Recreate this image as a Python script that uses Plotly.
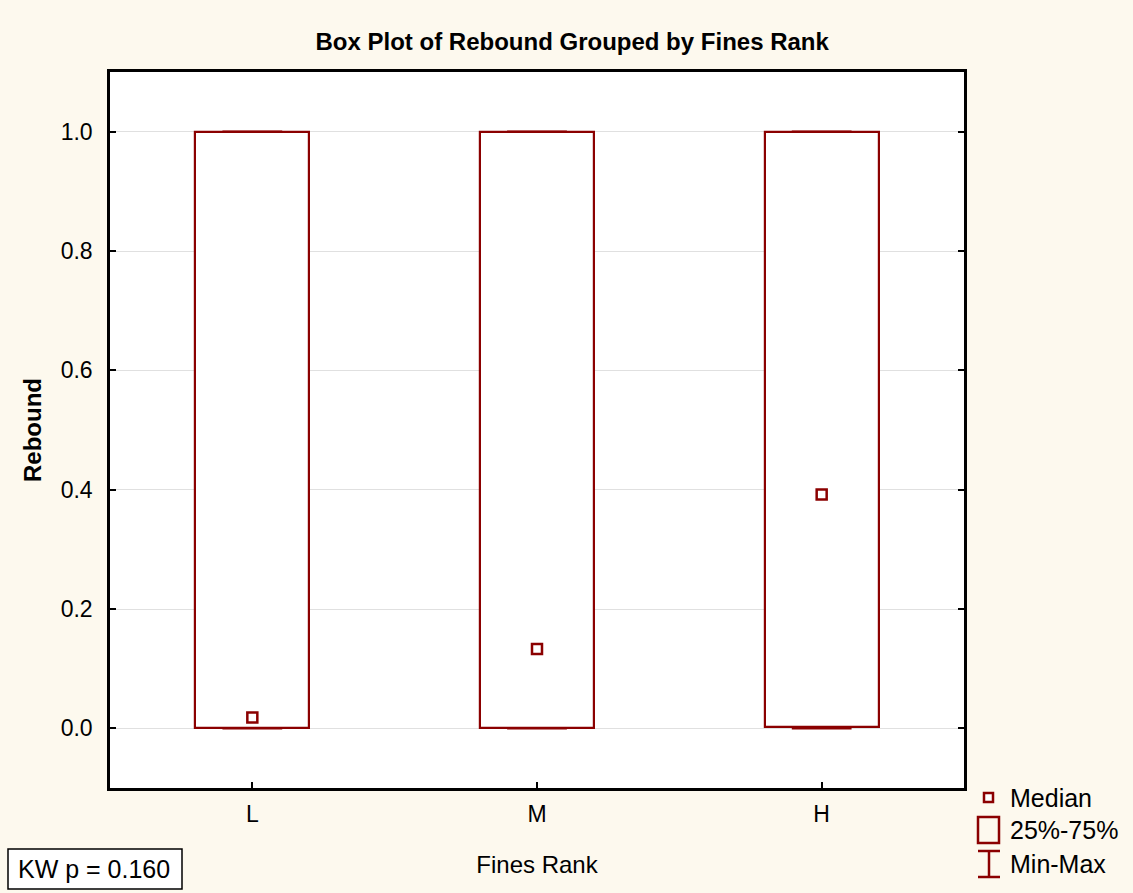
import plotly.graph_objects as go

categories = ["L", "M", "H"]
q1_vals = [0.0, 0.0, 0.003]
median_vals = [0.018, 0.133, 0.392]
q3_vals = [1.0, 1.0, 1.0]
min_vals = [0.0, 0.0, 0.0]
max_vals = [1.0, 1.0, 1.0]
y_ticks = [0.0, 0.2, 0.4, 0.6, 0.8, 1.0]
kw_text = "KW p = 0.160"

RED = "#8B0000"
BG = "#FDF9EE"
FONT = "Liberation Sans, Arial, sans-serif"
BOX_W = 0.4
CAP_HW = 0.105

W, H = 1133, 893
L_M, R_M, T_M, B_M = 110, 169, 72, 105
PW = W - L_M - R_M
PH = H - T_M - B_M

pos = list(range(len(categories)))
fig = go.Figure()

# boxes (25%-75%)
fig.add_trace(go.Bar(
    x=pos, base=q1_vals, y=[b - a for a, b in zip(q1_vals, q3_vals)],
    width=BOX_W, marker=dict(color="white", line=dict(color=RED, width=2.2)),
    showlegend=False, hoverinfo="skip"))

# whiskers (min-max)
wx, wy = [], []
for i in pos:
    wx += [i, i, None, i, i, None,
           i - CAP_HW, i + CAP_HW, None, i - CAP_HW, i + CAP_HW, None]
    wy += [q1_vals[i], min_vals[i], None, q3_vals[i], max_vals[i], None,
           min_vals[i], min_vals[i], None, max_vals[i], max_vals[i], None]
fig.add_trace(go.Scatter(x=wx, y=wy, mode="lines",
                         line=dict(color=RED, width=2.5),
                         showlegend=False, hoverinfo="skip"))

# medians
fig.add_trace(go.Scatter(x=pos, y=median_vals, mode="markers",
                         marker=dict(symbol="square-open", size=10, color=RED,
                                     line=dict(width=2.5, color=RED)),
                         showlegend=False))

fig.update_layout(
    width=W, height=H,
    paper_bgcolor=BG, plot_bgcolor="white",
    margin=dict(l=L_M, r=R_M, t=T_M, b=B_M),
    font=dict(family=FONT, size=23, color="black"),
    title=dict(text="<b>Box Plot of Rebound Grouped by Fines Rank</b>",
               x=0.505, xanchor="center", xref="container",
               y=1 - 42 / H, yanchor="middle", yref="container",
               font=dict(size=24)),
    xaxis=dict(range=[-0.5, 2.5], tickvals=pos, ticktext=categories,
               ticks="inside", ticklen=6, tickwidth=2, tickcolor="black",
               ticklabelstandoff=4,
               showline=True, linecolor="black", linewidth=2.5, mirror=True,
               showgrid=False, zeroline=False,
               title=dict(text="Fines Rank", standoff=30,
                          font=dict(size=24))),
    yaxis=dict(range=[-0.1, 1.1], tickvals=y_ticks,
               ticktext=[f"{v:.1f}" for v in y_ticks],
               ticks="inside", ticklen=6, tickwidth=2, tickcolor="black",
               ticklabelstandoff=10,
               showline=True, linecolor="black", linewidth=2.5, mirror="ticks",
               showgrid=True, gridcolor="#E0E0E0", gridwidth=1, zeroline=False,
               title=dict(text="<b>Rebound</b>", standoff=13,
                          font=dict(size=24))),
    bargap=0,
)


def px(x):
    return (x - L_M) / PW


def py(y):
    return (H - B_M - y) / PH


shapes = [
    # median symbol
    dict(type="rect", xref="paper", yref="paper",
         x0=px(984), x1=px(993), y0=py(802), y1=py(793),
         line=dict(color=RED, width=2.5), fillcolor="white"),
    # box symbol
    dict(type="rect", xref="paper", yref="paper",
         x0=px(978), x1=px(999), y0=py(843), y1=py(817),
         line=dict(color=RED, width=2.5), fillcolor=BG),
    # whisker symbol
    dict(type="line", xref="paper", yref="paper",
         x0=px(978), x1=px(1000), y0=py(851), y1=py(851),
         line=dict(color=RED, width=2.5)),
    dict(type="line", xref="paper", yref="paper",
         x0=px(978), x1=px(1000), y0=py(877), y1=py(877),
         line=dict(color=RED, width=2.5)),
    dict(type="line", xref="paper", yref="paper",
         x0=px(989), x1=px(989), y0=py(851), y1=py(877),
         line=dict(color=RED, width=2.5)),
    # KW box
    dict(type="rect", xref="paper", yref="paper",
         x0=px(8), x1=px(182), y0=py(889), y1=py(849),
         line=dict(color="black", width=1.5), fillcolor="white"),
]
fig.update_layout(shapes=shapes)

for label, yy in [("Median", 798), ("25%-75%", 830), ("Min-Max", 864)]:
    fig.add_annotation(text=label, xref="paper", yref="paper",
                       x=px(1008), y=py(yy), xanchor="left", yanchor="middle",
                       showarrow=False, font=dict(size=25))
fig.add_annotation(text=kw_text, xref="paper", yref="paper",
                   x=px(94), y=py(869), xanchor="center", yanchor="middle",
                   showarrow=False, font=dict(size=25))

fig.write_html("out.html", config={"displayModeBar": False},
               post_script="document.body.style.margin='0';")
